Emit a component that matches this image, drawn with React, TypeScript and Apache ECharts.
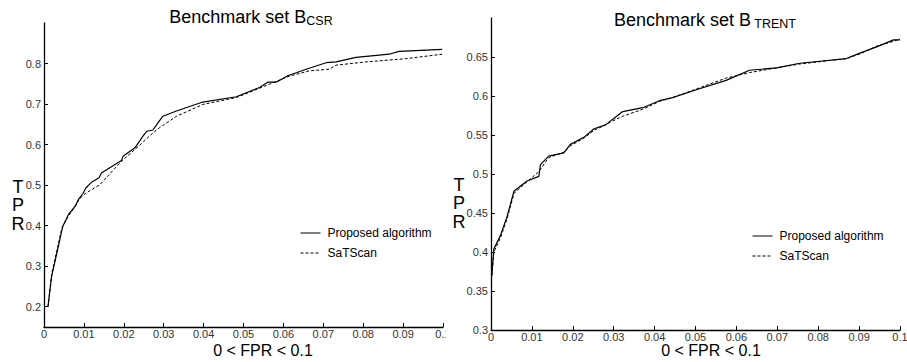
import React, { useEffect, useRef } from "react";
import * as echarts from "echarts";

// ---- Data: Benchmark set B_CSR ----
const csrProposedFpr = [0.0010, 0.0019, 0.0047, 0.0061, 0.0078, 0.0086, 0.0098, 0.0105, 0.0119, 0.0138, 0.0144, 0.0173, 0.0194, 0.0198, 0.0228, 0.0248, 0.0258, 0.0273, 0.0286, 0.0298, 0.0332, 0.0398, 0.0482, 0.0540, 0.0561, 0.0582, 0.0611, 0.0657, 0.0707, 0.0732, 0.0782, 0.0865, 0.0890, 0.0998];
const csrProposedTpr = [0.200, 0.274, 0.398, 0.427, 0.448, 0.464, 0.480, 0.493, 0.507, 0.518, 0.530, 0.548, 0.561, 0.571, 0.592, 0.621, 0.633, 0.636, 0.654, 0.670, 0.683, 0.705, 0.718, 0.741, 0.754, 0.754, 0.770, 0.786, 0.802, 0.804, 0.815, 0.823, 0.830, 0.835];
const csrSatscanFpr = [0.0010, 0.0019, 0.0045, 0.0060, 0.0080, 0.0088, 0.0103, 0.0140, 0.0194, 0.0236, 0.0273, 0.0290, 0.0332, 0.0398, 0.0482, 0.0565, 0.0615, 0.0665, 0.0715, 0.0732, 0.0807, 0.0907, 0.0998];
const csrSatscanTpr = [0.200, 0.280, 0.395, 0.422, 0.450, 0.465, 0.479, 0.501, 0.559, 0.595, 0.629, 0.642, 0.670, 0.699, 0.716, 0.749, 0.769, 0.782, 0.786, 0.796, 0.804, 0.812, 0.823];

// ---- Data: Benchmark set B_TRENT ----
const trentProposedFpr = [0.0002, 0.0007, 0.0023, 0.0039, 0.0047, 0.0056, 0.0088, 0.0117, 0.0121, 0.0141, 0.0178, 0.0194, 0.0227, 0.0252, 0.0280, 0.0297, 0.0322, 0.0371, 0.0412, 0.0444, 0.0502, 0.0575, 0.0632, 0.0698, 0.0755, 0.0869, 0.0902, 0.0943, 0.0984, 0.1000];
const trentProposedTpr = [0.370, 0.404, 0.421, 0.445, 0.460, 0.478, 0.491, 0.497, 0.512, 0.523, 0.527, 0.538, 0.547, 0.558, 0.563, 0.570, 0.580, 0.585, 0.594, 0.598, 0.608, 0.620, 0.633, 0.636, 0.642, 0.648, 0.655, 0.663, 0.672, 0.672];
const trentSatscanFpr = [0.0002, 0.0007, 0.0023, 0.0039, 0.0047, 0.0056, 0.0088, 0.0117, 0.0141, 0.0178, 0.0194, 0.0227, 0.0252, 0.0280, 0.0297, 0.0322, 0.0371, 0.0412, 0.0444, 0.0502, 0.0575, 0.0632, 0.0698, 0.0755, 0.0869, 0.0902, 0.0943, 0.0984, 0.1000];
const trentSatscanTpr = [0.370, 0.400, 0.418, 0.442, 0.457, 0.475, 0.490, 0.503, 0.521, 0.528, 0.536, 0.546, 0.556, 0.563, 0.568, 0.574, 0.583, 0.593, 0.598, 0.609, 0.623, 0.630, 0.636, 0.641, 0.648, 0.654, 0.664, 0.670, 0.673];

// ---- Tick labels ----
const csrYTicks = [0.2, 0.3, 0.4, 0.5, 0.6, 0.7, 0.8];
const trentYTicks = [0.3, 0.35, 0.4, 0.45, 0.5, 0.55, 0.6, 0.65];
const seriesNames = ["Proposed algorithm", "SaTScan"];

const FONT = "'Liberation Sans', Arial, sans-serif";

const zip = (xs: number[], ys: number[]) => xs.map((x, i) => [x, ys[i]]);
const fmt = (v: number) => String(parseFloat(Number(v).toFixed(3)));

interface PanelCfg {
  grid: { left: number; right: number; top: number; bottom: number };
  yMin: number;
  yMax: number;
  yTicks: number[];
  proposed: number[][];
  satscan: number[][];
  legendLeft: number;
  legendTop: number;
  title: string;
  titleX: number;
  titleY: number;
  nameX: number;
  nameY: number;
  tprX: number;
  tprY: number;
}

function buildOption(c: PanelCfg): any {
  const axisLine = { show: true, lineStyle: { color: "#000", width: 1.3 } };
  const axisTick = { show: true, inside: true, length: 4, lineStyle: { color: "#000", width: 1 } };
  return {
    animation: false,
    backgroundColor: "#fff",
    textStyle: { fontFamily: FONT },
    grid: { ...c.grid, containLabel: false, outerBoundsMode: "none" },
    xAxis: {
      type: "value",
      min: 0,
      max: 0.1,
      interval: 0.01,
      axisLine,
      axisTick,
      splitLine: { show: false },
      axisLabel: { fontSize: 11, color: "#333", margin: 1, fontFamily: FONT, formatter: fmt },
    },
    yAxis: {
      type: "value",
      min: c.yMin,
      max: c.yMax,
      axisLine,
      axisTick: { ...axisTick, customValues: c.yTicks },
      splitLine: { show: false },
      axisLabel: { fontSize: 11, color: "#333", margin: 3, fontFamily: FONT, customValues: c.yTicks, formatter: fmt },
    },
    legend: {
      data: seriesNames,
      orient: "vertical",
      left: c.legendLeft,
      top: c.legendTop,
      itemWidth: 20,
      itemHeight: 12,
      itemGap: 8,
      itemStyle: { opacity: 0 },
      lineStyle: { width: 1 },
      textStyle: { fontSize: 12, color: "#000", fontFamily: FONT, padding: [0, 0, 0, 2] },
    },
    series: [
      {
        name: seriesNames[0],
        type: "line",
        data: c.proposed,
        symbol: "none",
        z: 3,
        lineStyle: { color: "#000", width: 1.2, type: "solid" },
        itemStyle: { color: "#000" },
      },
      {
        name: seriesNames[1],
        type: "line",
        data: c.satscan,
        symbol: "none",
        z: 2,
        lineStyle: { color: "#000", width: 1, type: [3, 2] },
        itemStyle: { color: "#000" },
      },
    ],
    graphic: [
      {
        type: "text",
        x: c.titleX,
        y: c.titleY,
        style: {
          text: c.title,
          align: "center",
          verticalAlign: "middle",
          fill: "#000",
          rich: {
            a: { fontSize: 18, fontFamily: FONT, fill: "#000" },
            b: { fontSize: 12.5, fontFamily: FONT, fill: "#000", padding: [8, 0, 0, 0] },
          },
        },
      },
      {
        type: "text",
        x: c.nameX,
        y: c.nameY,
        style: {
          text: "0 < FPR < 0.1",
          align: "center",
          verticalAlign: "middle",
          fontSize: 16,
          fontFamily: FONT,
          fill: "#000",
        },
      },
      {
        type: "text",
        x: c.tprX,
        y: c.tprY,
        style: {
          text: "T\nP\nR",
          align: "center",
          verticalAlign: "middle",
          fontSize: 18,
          lineHeight: 18.5,
          fontFamily: FONT,
          fill: "#000",
        },
      },
    ],
  };
}

function Panel({ cfg, width, left }: { cfg: PanelCfg; width: number; left: number }) {
  const ref = useRef<HTMLDivElement>(null);
  useEffect(() => {
    if (!ref.current) return;
    const chart = echarts.init(ref.current, undefined, { renderer: "svg" });
    chart.setOption(buildOption(cfg));
    return () => chart.dispose();
  }, [cfg]);
  return (
    <div
      ref={ref}
      style={{ position: "absolute", left, top: 0, width, height: 362, overflow: "hidden" }}
    />
  );
}

const leftCfg: PanelCfg = {
  grid: { left: 44, right: 3, top: 23, bottom: 35 },
  yMin: 0.15,
  yMax: 0.9,
  yTicks: csrYTicks,
  proposed: zip(csrProposedFpr, csrProposedTpr),
  satscan: zip(csrSatscanFpr, csrSatscanTpr),
  legendLeft: 295,
  legendTop: 222,
  title: "{a|Benchmark set B}{b|CSR}",
  titleX: 251,
  titleY: 17,
  nameX: 263,
  nameY: 350,
  tprX: 18,
  tprY: 205,
};

const rightCfg: PanelCfg = {
  grid: { left: 45, right: 7, top: 18, bottom: 32 },
  yMin: 0.3,
  yMax: 0.7,
  yTicks: trentYTicks,
  proposed: zip(trentProposedFpr, trentProposedTpr),
  satscan: zip(trentSatscanFpr, trentSatscanTpr),
  legendLeft: 301,
  legendTop: 225,
  title: "{a|Benchmark set B}{b| TRENT}",
  titleX: 259,
  titleY: 20,
  nameX: 265,
  nameY: 350.5,
  tprX: 13,
  tprY: 203,
};

export default function App() {
  return (
    <div style={{ position: "fixed", left: 0, top: 0, width: 907, height: 362, background: "#fff", overflow: "hidden" }}>
      <Panel cfg={leftCfg} width={446} left={0} />
      <Panel cfg={rightCfg} width={461} left={446} />
    </div>
  );
}
